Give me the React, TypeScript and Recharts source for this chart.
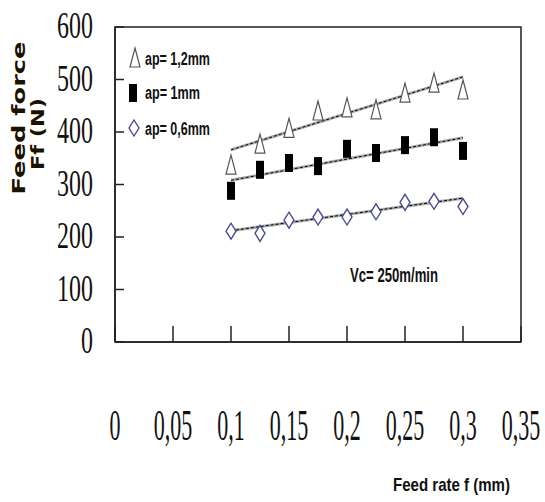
import { ScatterChart, Scatter, XAxis, YAxis, ReferenceArea } from "recharts";

const feedRate = [0.1, 0.125, 0.15, 0.175, 0.2, 0.225, 0.25, 0.275, 0.3];
const ap12 = [337, 377, 407, 440, 446, 442, 474, 493, 480];
const ap10 = [288, 328, 341, 335, 368, 360, 375, 390, 364];
const ap06 = [211, 207, 232, 238, 238, 248, 266, 268, 258];

// fitted lines, end points
const trendX = [0.1, 0.3];
const trend12 = [366, 505];
const trend10 = [308, 389];
const trend06 = [212, 274];

const xTicks = [0, 0.05, 0.1, 0.15, 0.2, 0.25, 0.3, 0.35];
const yTicks = [0, 100, 200, 300, 400, 500, 600];

const pts = (ys: number[]) => feedRate.map((x, i) => ({ x, y: ys[i] }));
const line = (ys: number[]) => trendX.map((x, i) => ({ x, y: ys[i] }));

const serif = "'Liberation Serif', 'Times New Roman', serif";
const sans = "'Liberation Sans', Arial, sans-serif";

const Triangle = ({ cx, cy }: any) => (
  <path
    d={`M${cx},${cy - 10} L${cx + 5},${cy + 9} L${cx - 5},${cy + 9} Z`}
    fill="#fff"
    stroke="#555"
    strokeWidth={1.2}
  />
);

const Square = ({ cx, cy }: any) => (
  <rect x={cx - 4} y={cy - 9} width={8} height={18} fill="#000" />
);

const Diamond = ({ cx, cy }: any) => (
  <path
    d={`M${cx},${cy - 8} L${cx + 5},${cy} L${cx},${cy + 8} L${cx - 5},${cy} Z`}
    fill="#fff"
    stroke="#4b4b95"
    strokeWidth={1.4}
  />
);

const Nothing = () => <g />;

const YTick = ({ x, y, payload }: any) => (
  <g>
    <line x1={x} x2={x + 9} y1={y} y2={y} stroke="#222" strokeWidth={1.5} />
    <text
      transform={`translate(${x - 22},${y + 11}) scale(0.63,1)`}
      textAnchor="end"
      fontFamily={serif}
      fontSize={38}
      fill="#111"
    >
      {payload.value}
    </text>
  </g>
);

const XTick = ({ x, y, payload }: any) => (
  <g>
    <line x1={x} x2={x} y1={y} y2={y - 16} stroke="#222" strokeWidth={1.5} />
    <text
      transform={`translate(${x},${y + 98}) scale(0.5,1)`}
      textAnchor="middle"
      fontFamily={serif}
      fontSize={44}
      fill="#111"
    >
      {String(payload.value).replace(".", ",")}
    </text>
  </g>
);

const boldText = {
  fontFamily: sans,
  fontWeight: 700,
  fill: "#111",
  lengthAdjust: "spacingAndGlyphs",
} as const;

export default function App() {
  return (
    <div style={{ position: "absolute", left: 0, top: 0, width: 545, height: 502 }}>
      <ScatterChart width={545} height={502} margin={{ top: 27, right: 24, bottom: 0, left: 0 }}>
        <XAxis
          type="number"
          dataKey="x"
          domain={[0, 0.35]}
          ticks={xTicks}
          interval={0}
          height={160}
          tickSize={0}
          tickMargin={0}
          tick={<XTick />}
          axisLine={{ stroke: "#222", strokeWidth: 1.5 }}
        />
        <YAxis
          type="number"
          dataKey="y"
          domain={[0, 600]}
          ticks={yTicks}
          interval={0}
          width={115}
          tickSize={0}
          tickMargin={0}
          tick={<YTick />}
          axisLine={{ stroke: "#222", strokeWidth: 1.5 }}
        />
        <ReferenceArea x1={0} x2={0.35} y1={0} y2={600} fill="none" stroke="#222" strokeWidth={1.5} />

        <Scatter data={line(trend12)} line={{ stroke: "#aaa", strokeWidth: 3 }} shape={<Nothing />} isAnimationActive={false} />
        <Scatter data={line(trend12)} line={{ stroke: "#000", strokeWidth: 1, strokeDasharray: "3 2" }} shape={<Nothing />} isAnimationActive={false} />
        <Scatter data={line(trend10)} line={{ stroke: "#aaa", strokeWidth: 3 }} shape={<Nothing />} isAnimationActive={false} />
        <Scatter data={line(trend10)} line={{ stroke: "#000", strokeWidth: 1, strokeDasharray: "3 2" }} shape={<Nothing />} isAnimationActive={false} />
        <Scatter data={line(trend06)} line={{ stroke: "#aaa", strokeWidth: 3 }} shape={<Nothing />} isAnimationActive={false} />
        <Scatter data={line(trend06)} line={{ stroke: "#000", strokeWidth: 1, strokeDasharray: "3 2" }} shape={<Nothing />} isAnimationActive={false} />

        <Scatter name="ap= 1,2mm" data={pts(ap12)} shape={<Triangle />} isAnimationActive={false} />
        <Scatter name="ap= 1mm" data={pts(ap10)} shape={<Square />} isAnimationActive={false} />
        <Scatter name="ap= 0,6mm" data={pts(ap06)} shape={<Diamond />} isAnimationActive={false} />
      </ScatterChart>

      <svg width={545} height={502} style={{ position: "absolute", left: 0, top: 0, pointerEvents: "none" }}>
        {/* legend */}
        <Triangle cx={135} cy={58} />
        <text x={145} y={65} fontSize={18} textLength={65} {...boldText}>ap= 1,2mm</text>
        <Square cx={133} cy={93} />
        <text x={145} y={99} fontSize={18} textLength={55} {...boldText}>ap= 1mm</text>
        <Diamond cx={134} cy={128} />
        <text x={145} y={135} fontSize={18} textLength={65} {...boldText}>ap= 0,6mm</text>

        <text x={350} y={282} fontSize={20} textLength={88} {...boldText}>Vc= 250m/min</text>

        <text x={393} y={491} fontSize={19} textLength={117} {...boldText}>Feed rate f (mm)</text>

        <text
          transform="translate(25,118) rotate(-90)"
          textAnchor="middle"
          fontSize={17}
          textLength={153}
          {...boldText}
          fontFamily="'DejaVu Sans', sans-serif"
          fill="#1c1200"
        >
          Feed force
        </text>
        <text
          transform="translate(44,134) rotate(-90)"
          textAnchor="middle"
          fontSize={17}
          textLength={72}
          {...boldText}
          fontFamily="'DejaVu Sans', sans-serif"
          fill="#1c1200"
        >
          Ff (N)
        </text>
      </svg>
    </div>
  );
}
